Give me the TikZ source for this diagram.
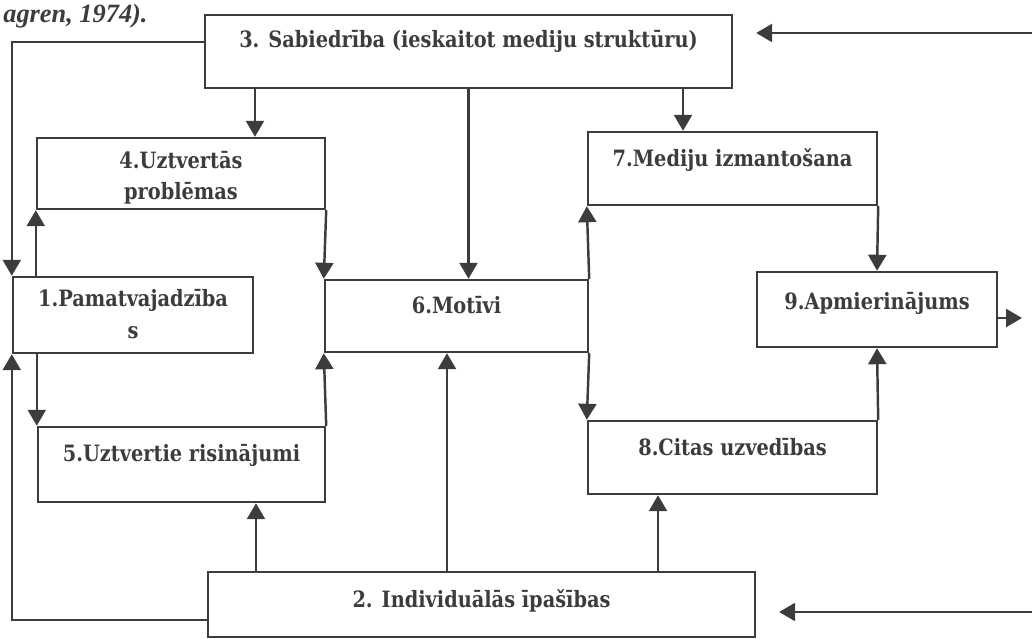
\documentclass[tikz,border=0pt]{standalone}
\usepackage{fontspec}
\setmainfont{DejaVu Serif}[FakeStretch=0.86]
\newfontfamily\capfont{Liberation Serif}
\usetikzlibrary{arrows.meta}
\definecolor{ink}{HTML}{3C3C3C}
\tikzset{
	box/.style={draw=ink, line width=1.4pt, rectangle, inner sep=0pt},
	boxtext/.style={font=\bfseries\fontsize{12.8}{16.5}\selectfont, text=ink, align=center, anchor=north, inner sep=0pt},
	arr/.style={draw=ink, line width=1.4pt, -{Triangle[length=0.32cm,width=0.36cm]}},
}
\begin{document}
\begin{tikzpicture}[x=0.02cm, y=-0.02cm]
	\useasboundingbox (0,0) rectangle (1032,639);
	
	\node[anchor=base west, inner sep=0pt, text=ink, font=\capfont\bfseries\itshape\fontsize{15}{18}\selectfont] (cap) at (3,22) {agren, 1974).};
	
	% boxes
	\node[box, minimum width=10.54cm, minimum height=1.46cm, label={[boxtext, yshift=-0.33cm]north:3. Sabiedrība (ieskaitot mediju struktūru)}] (s3) at (468.5,51.5) {};
	\node[box, minimum width=5.76cm, minimum height=1.42cm, label={[boxtext, yshift=-0.28cm]north:{4.Uztvertās\\[1pt]problēmas}}] (s4) at (181,173.5) {};
	\node[box, minimum width=4.8cm, minimum height=1.52cm, label={[boxtext, yshift=-0.26cm]north:{1.Pamatvajadzība\\[2pt]s}}] (s1) at (133,315) {};
	\node[box, minimum width=5.26cm, minimum height=1.44cm, label={[boxtext, yshift=-0.34cm]north:6.Motīvi}] (s6) at (456.5,316) {};
	\node[box, minimum width=5.74cm, minimum height=1.5cm, label={[boxtext, yshift=-0.36cm]north:5.Uztvertie risinājumi}] (s5) at (181.5,464.5) {};
	\node[box, minimum width=5.78cm, minimum height=1.46cm, label={[boxtext, yshift=-0.34cm]north:7.Mediju izmantošana}] (s7) at (732.5,168.5) {};
	\node[box, minimum width=4.8cm, minimum height=1.5cm, label={[boxtext, yshift=-0.42cm]north:9.Apmierinājums}] (s9) at (877,309.5) {};
	\node[box, minimum width=5.78cm, minimum height=1.46cm, label={[boxtext, yshift=-0.36cm]north:8.Citas uzvedības}] (s8) at (732.5,457.5) {};
	\node[box, minimum width=10.94cm, minimum height=1.3cm, label={[boxtext, yshift=-0.36cm]north:2. Individuālās īpašības}] (s2) at (481.5,604.5) {};
	
	\coordinate (in3) at (1032,33);
	\coordinate (in2) at (1032,612);
	\coordinate (out9) at (1022,318);
	\coordinate (t4) at ([xshift=1.48cm]s4.north);
	\coordinate (t7) at ([xshift=-0.99cm]s7.north);
	\coordinate (t5) at ([xshift=1.49cm]s5.south);
	\coordinate (t6) at ([xshift=-0.19cm]s6.south);
	\coordinate (t8) at ([xshift=-1.49cm]s8.south);
	
	% society
	\draw[arr, shorten >=0.46cm] (in3) -- (in3 -| s3.east);
	\draw[arr] ([yshift=0.19cm]s3.west) -| (s1.north west);
	\draw[arr] (s3.south -| t4) -- (t4);
	\draw[arr] (s3.south) -- (s3.south |- s6.north);
	\draw[arr] (s3.south -| t7) -- (t7);
	
	% left column
	\draw[arr] (s1.north -| s4.south west) -- (s4.south west);
	\draw[arr] (s1.south -| s5.north west) -- (s5.north west);
	\draw[arr] (s4.south east) -- (s6.north west);
	\draw[arr] (s5.north east) -- (s6.south west);
	
	% individual
	\draw[arr, shorten >=0.46cm] (in2) -- (in2 -| s2.east);
	\draw[arr] ([yshift=-0.31cm]s2.west) -| (s1.south west);
	\draw[arr] (s2.north -| t5) -- (t5);
	\draw[arr] (s2.north -| t6) -- (t6);
	\draw[arr] (s2.north -| t8) -- (t8);
	
	% right column
	\draw[arr] (s6.north east) -- (s7.south west);
	\draw[arr] (s6.south east) -- (s8.north west);
	\draw[arr] (s7.south east) -- (s9.north);
	\draw[arr] (s8.north east) -- (s9.south);
	\draw[arr] (s9.east |- out9) -- (out9);
	
\end{tikzpicture}
\end{document}
